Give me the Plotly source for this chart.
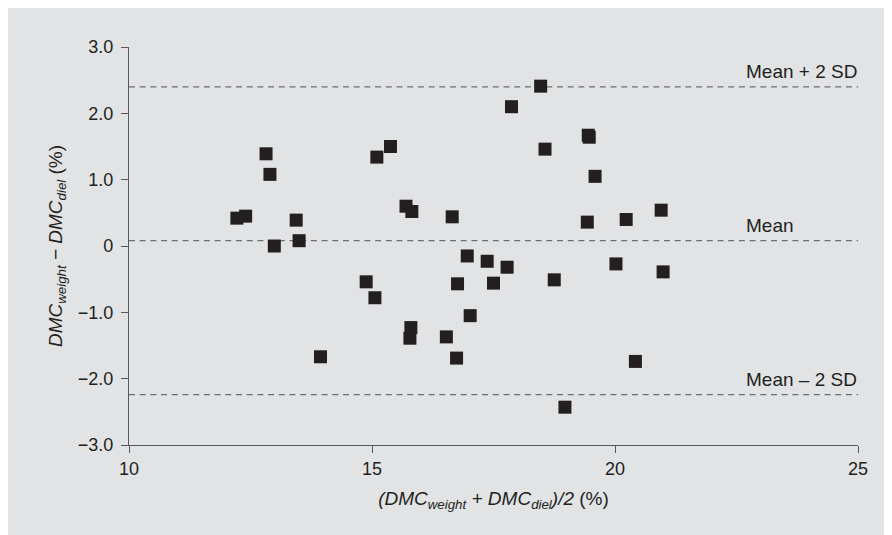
import plotly.graph_objects as go

# Bland–Altman data: mean of two methods vs difference
x_mean = [12.22, 12.40, 12.82, 12.90, 12.99, 13.44, 13.50, 13.94, 14.88, 15.06,
          15.10, 15.38, 15.70, 15.82, 15.80, 15.78, 16.53, 16.65, 16.74, 16.76,
          16.96, 17.02, 17.37, 17.50, 17.78, 17.87, 18.47, 18.56, 18.75, 18.97,
          19.43, 19.45, 19.47, 19.59, 20.02, 20.23, 20.42, 20.95, 20.99]
y_diff = [0.42, 0.45, 1.39, 1.08, 0.00, 0.39, 0.08, -1.67, -0.54, -0.78,
          1.34, 1.50, 0.60, 0.52, -1.23, -1.39, -1.37, 0.44, -1.69, -0.57,
          -0.15, -1.05, -0.23, -0.56, -0.32, 2.10, 2.41, 1.46, -0.51, -2.43,
          0.36, 1.67, 1.64, 1.05, -0.27, 0.40, -1.74, 0.54, -0.39]

limit_names = ["Mean + 2 SD", "Mean", "Mean \u2013 2 SD"]
limit_values = [2.40, 0.08, -2.24]

x_range = [10, 25]
y_range = [-3, 3]
x_ticks = [10, 15, 20, 25]
y_ticks = [-3, -2, -1, 0, 1, 2, 3]
y_ticklabels = ["\u22123.0", "\u22122.0", "\u22121.0", "0", "1.0", "2.0", "3.0"]

FONT = "Liberation Sans, Arial, Helvetica, sans-serif"
TXT = "#231f20"
AX = "#58595b"
BG = "#e2e3e5"

fig = go.Figure()

for name, val in zip(limit_names, limit_values):
    fig.add_trace(go.Scatter(
        x=x_range, y=[val, val], mode="lines",
        line=dict(color="#6d6e71", width=1.3, dash="6px,4.7px"),
        hoverinfo="skip", showlegend=False, cliponaxis=True))
    fig.add_annotation(
        x=22.65, y=val, xref="x", yref="y", text=name, showarrow=False,
        xanchor="left", yanchor="bottom", yshift=3,
        font=dict(family=FONT, size=19, color=TXT))

fig.add_trace(go.Scatter(
    x=x_mean, y=y_diff, mode="markers",
    marker=dict(symbol="square", size=13, color=TXT, line=dict(width=0)),
    showlegend=False))

fig.update_xaxes(
    range=x_range, tickvals=x_ticks, ticktext=[str(v) for v in x_ticks],
    showline=True, linecolor=AX, linewidth=1.3,
    ticks="outside", ticklen=7, tickcolor=AX, tickwidth=1.3,
    showgrid=False, zeroline=False,
    tickfont=dict(family=FONT, size=18, color=TXT),
    title=dict(text="<i>(DMC<sub>weight</sub> + DMC<sub>diel</sub>)/2</i> (%)",
               font=dict(family=FONT, size=19, color=TXT), standoff=13))
fig.update_yaxes(
    range=y_range, tickvals=y_ticks, ticktext=y_ticklabels,
    showline=True, linecolor=AX, linewidth=1.3,
    ticks="outside", ticklen=7, tickcolor=AX, tickwidth=1.3,
    ticklabelstandoff=4,
    showgrid=False, zeroline=False,
    tickfont=dict(family=FONT, size=18, color=TXT),
    title=dict(text="<i>DMC<sub>weight</sub> \u2212 DMC<sub>diel</sub></i> (%)",
               font=dict(family=FONT, size=19, color=TXT), standoff=10))

fig.update_layout(
    width=892, height=535,
    margin=dict(l=120.5, r=41.5, t=38.7, b=98, autoexpand=False),
    paper_bgcolor=BG, plot_bgcolor=BG,
    font=dict(family=FONT, color=TXT),
    showlegend=False)

fig.write_html("out.html")
